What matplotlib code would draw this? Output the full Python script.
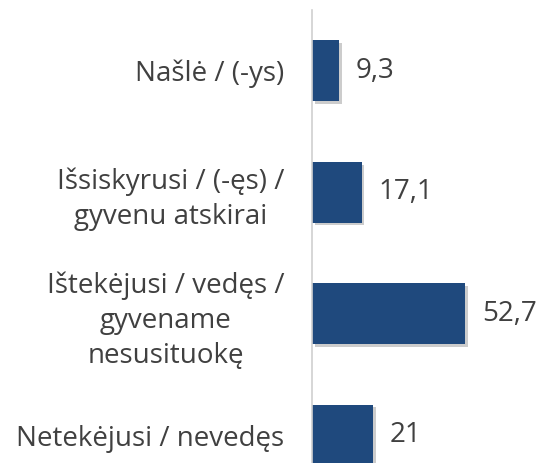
import matplotlib

matplotlib.use("Agg")
import matplotlib.pyplot as plt
import matplotlib.patheffects as pe

categories = [
    "Našlė / (-ys)",
    "Išsiskyrusi / (-ęs) /\ngyvenu atskirai",
    "Ištekėjusi / vedęs /\ngyvename\nnesusituokę",
    "Netekėjusi / nevedęs",
]
values = [9.3, 17.1, 52.7, 21]
value_labels = ["9,3", "17,1", "52,7", "21"]

plt.rcParams["font.family"] = ["Open Sans", "DejaVu Sans"]

fig = plt.figure(figsize=(5.4, 4.63), dpi=100)
ax = fig.add_axes([312 / 540, 0, 1 - 312 / 540, 453 / 463])

y = list(range(len(categories)))
bars = ax.barh(y, values, height=0.5, color="#1F497D")
for b in bars:
    b.set_path_effects([
        pe.SimplePatchShadow(offset=(2, -2), shadow_rgbFace="#000000", alpha=0.2),
        pe.Normal(),
    ])

for yi, v, lab in zip(y, values, value_labels):
    ax.annotate(lab, (v, yi), xytext=(12, 0), textcoords="offset points",
                va="center", ha="left", fontsize=20, color="#404040")

ax.set_xlim(0, 78.5)
ax.set_ylim(3.23, -0.5)
ax.set_yticks(y)
ax.set_yticklabels(categories, fontsize=20, color="#404040",
                   multialignment="center", linespacing=1.35)
ax.tick_params(axis="y", length=0, pad=20)
ax.set_xticks([])
for s in ["top", "right", "bottom"]:
    ax.spines[s].set_visible(False)
ax.spines["left"].set_color("#D0D0D0")
ax.spines["left"].set_linewidth(1.2)

fig.savefig("out.png", dpi=100)
